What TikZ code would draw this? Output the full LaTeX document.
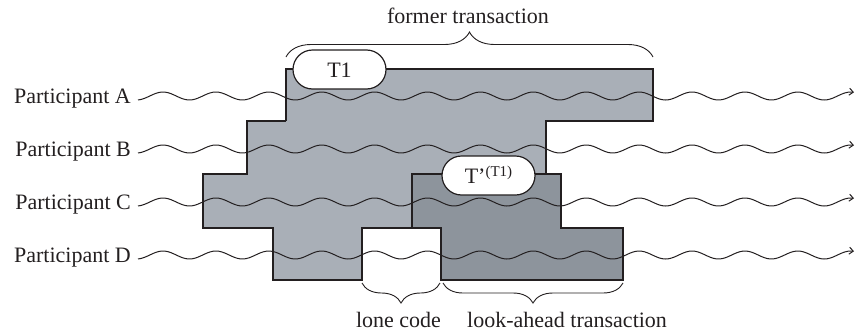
\documentclass[tikz,border=0pt]{standalone}
\usepackage{fontspec}
\setmainfont{Liberation Serif}
\usetikzlibrary{arrows.meta,decorations.pathreplacing,shapes.misc}
\definecolor{former}{HTML}{A9AFB7}
\definecolor{ahead}{HTML}{8D949C}
\definecolor{ink}{HTML}{231F20}
\begin{document}
\begin{tikzpicture}[x=1pt,y=-1pt,
  every node/.style={font=\fontsize{22}{26}\selectfont, text=ink},
  region/.style={draw=ink, line width=1.3pt, line join=miter},
  wave/.style={draw=ink, line width=1pt, -{Straight Barb[length=4pt,width=7pt]}},
  pill/.style={rounded rectangle, draw=ink, line width=1.2pt, fill=white,
               minimum width=93pt, minimum height=39pt, inner sep=0pt},
  curly/.style={draw=ink, line width=0.9pt, decorate,
                decoration={brace, amplitude=#1}},
  curlydown/.style={draw=ink, line width=0.9pt, decorate,
                decoration={brace, mirror, amplitude=#1}}]
\useasboundingbox (0,0) rectangle (857,335);

% former transaction region
\fill[former] (286,69) -- (653,69) -- (653,121) -- (546,121) -- (546,174)
  -- (412,174) -- (412,228) -- (362,228) -- (362,280) -- (273,280)
  -- (273,228) -- (203,228) -- (203,174) -- (247,174) -- (247,121)
  -- (286,121) -- cycle;
\draw[region] (286,121) -- (286,69) -- (653,69) -- (653,121) -- (546,121) -- (546,174);
\draw[region] (412,228) -- (362,228) -- (362,280) -- (273,280)
  -- (273,228) -- (203,228) -- (203,174) -- (247,174) -- (247,121) -- (286,121);

% look-ahead transaction region
\filldraw[region, fill=ahead] (412,174) -- (561,174) -- (561,228) -- (623,228)
  -- (623,280) -- (441,280) -- (441,228) -- (412,228) -- cycle;

% participants and their time lines (period 52.9pt, i.e. 6.805 deg per pt)
\foreach \lab/\yc in {A/96,B/149,C/202,D/255}{
  \node[anchor=base east, inner sep=0pt] (p\lab) at (131,\yc+7) {Participant \lab};
  \coordinate (e\lab) at (854,\yc);
  \draw[wave] plot[domain=138:854, samples=240, smooth]
    (\x, {\yc - 4*cos(6.805*(\x-163))});
}

% transaction tags
\node[pill] (t1) at (339.5,69.5) {};
\node[anchor=base] (t1txt) at (t1.center |- 0,77) {T1};
\node[pill] (t2) at (488.5,175.5) {};
\node[anchor=base] (t2txt) at (t2.center |- 0,183)
  {T’\raisebox{7pt}{\fontsize{15}{15}\selectfont (T1)}};

% braces and their captions
\coordinate (fL) at (286,57);
\coordinate (fR) at (653,57);
\draw[curly=25pt] (fL) -- (fR);
\node[anchor=base] (ftxt) at (468,23) {former transaction};

\coordinate (lL) at (362,283);
\coordinate (lR) at (440,283);
\draw[curlydown=20pt] (lL) -- (lR);
\node[anchor=base] (ltxt) at (398.5,327) {lone code};

\coordinate (aL) at (443,283);
\coordinate (aR) at (623,283);
\draw[curlydown=20pt] (aL) -- (aR);
\node[anchor=base west, inner sep=0pt] (atxt) at (467,327) {look-ahead transaction};
\end{tikzpicture}
\end{document}
